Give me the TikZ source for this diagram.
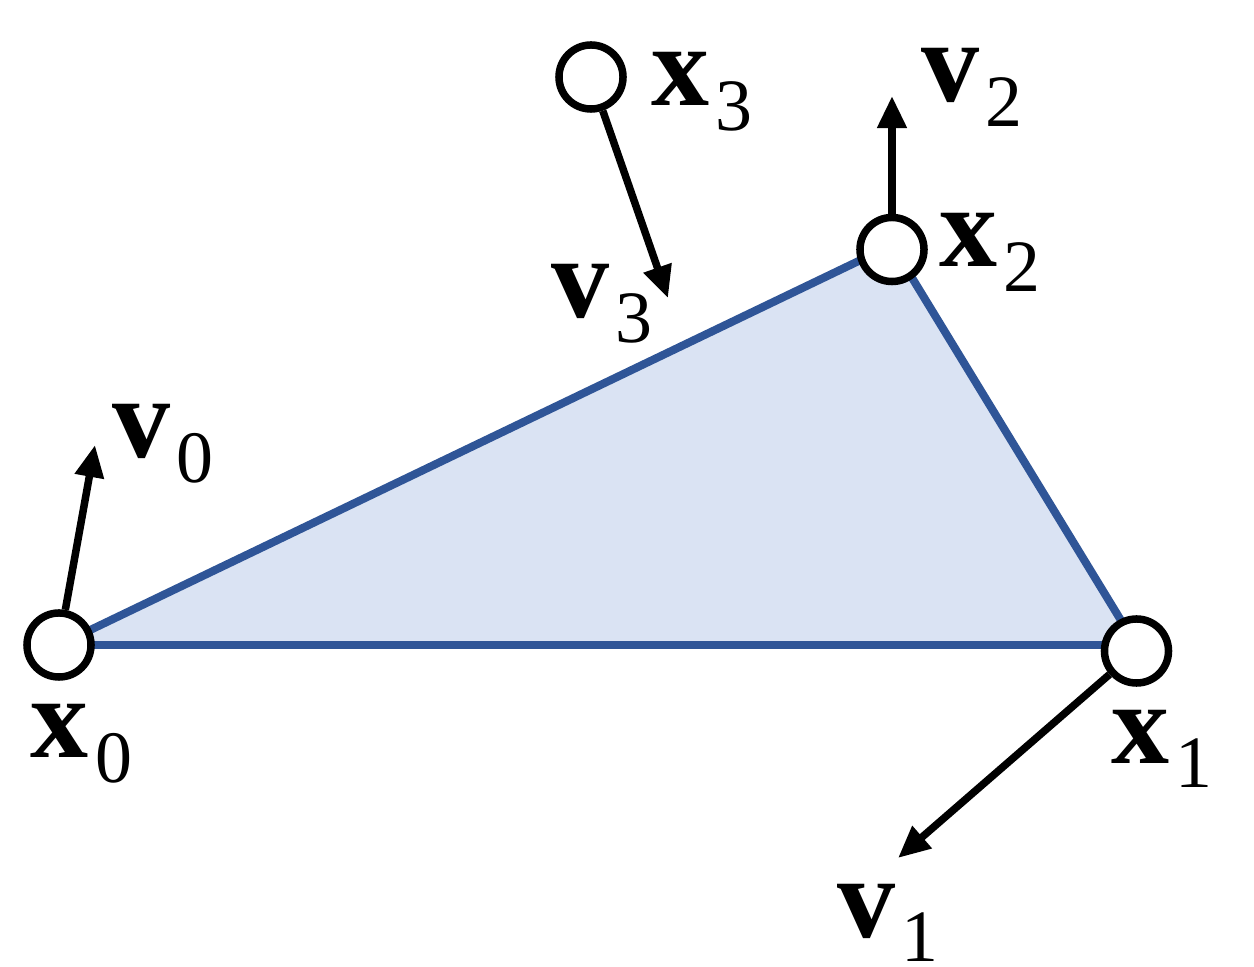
\documentclass[tikz,border=0pt]{standalone}
\usepackage{fontspec}
\setmainfont{Liberation Serif}
\usetikzlibrary{arrows.meta}
\definecolor{edgeblue}{HTML}{2F5597}
\definecolor{fillblue}{HTML}{DAE3F3}
\newcommand{\vlab}[2]{{\fontsize{33}{33}\selectfont\bfseries #1}\kern0.06cm\raisebox{-0.24cm}{\fontsize{21}{21}\selectfont #2}}
\tikzset{
  pt/.style={circle, draw=black, fill=white, line width=0.075cm, minimum size=0.64cm, inner sep=0pt},
  vel/.style={line width=0.075cm, -{Triangle[width=0.28cm,length=0.32cm]}},
  edge/.style={draw=edgeblue, line width=0.08cm},
  lbl/.style={anchor=base west, inner sep=0pt, outer sep=0pt}
}
\begin{document}
\begin{tikzpicture}[x=0.01cm,y=-0.01cm]
\useasboundingbox (0,0) rectangle (1254,967);
\coordinate (p0) at (59,645);
\coordinate (p1) at (1136,645);
\coordinate (p2) at (892,245);
\fill[fillblue] (p0) -- (p1) -- (p2) -- cycle;
\draw[edge] (p0) -- (p1);
\draw[edge] (p1) -- (p2);
\draw[edge] (p2) -- (p0);
\node[pt] (x0) at (59,645) {};
\node[pt] (x1) at (1136.5,651) {};
\node[pt] (x2) at (892,249.5) {};
\node[pt] (x3) at (591,77) {};
\coordinate (t0) at (95,445);
\coordinate (t1) at (898,858);
\coordinate (t2) at (892,96);
\coordinate (t3) at (668,298);
\draw[vel] (x0) -- (t0);
\draw[vel] (x1) -- (t1);
\draw[vel] (x2) -- (t2);
\draw[vel] (x3) -- (t3);
\node[lbl] (lx0) at (31,758) {\vlab{x}{0}};
\node[lbl] (lv0) at (112,458) {\vlab{v}{0}};
\node[lbl] (lx3) at (651,106) {\vlab{x}{3}};
\node[lbl] (lv2) at (921,102) {\vlab{v}{2}};
\node[lbl] (lx2) at (939,267) {\vlab{x}{2}};
\node[lbl] (lv3) at (551,318) {\vlab{v}{3}};
\node[lbl] (lx1) at (1111,763) {\vlab{x}{1}};
\node[lbl] (lv1) at (837,937) {\vlab{v}{1}};
\end{tikzpicture}
\end{document}
